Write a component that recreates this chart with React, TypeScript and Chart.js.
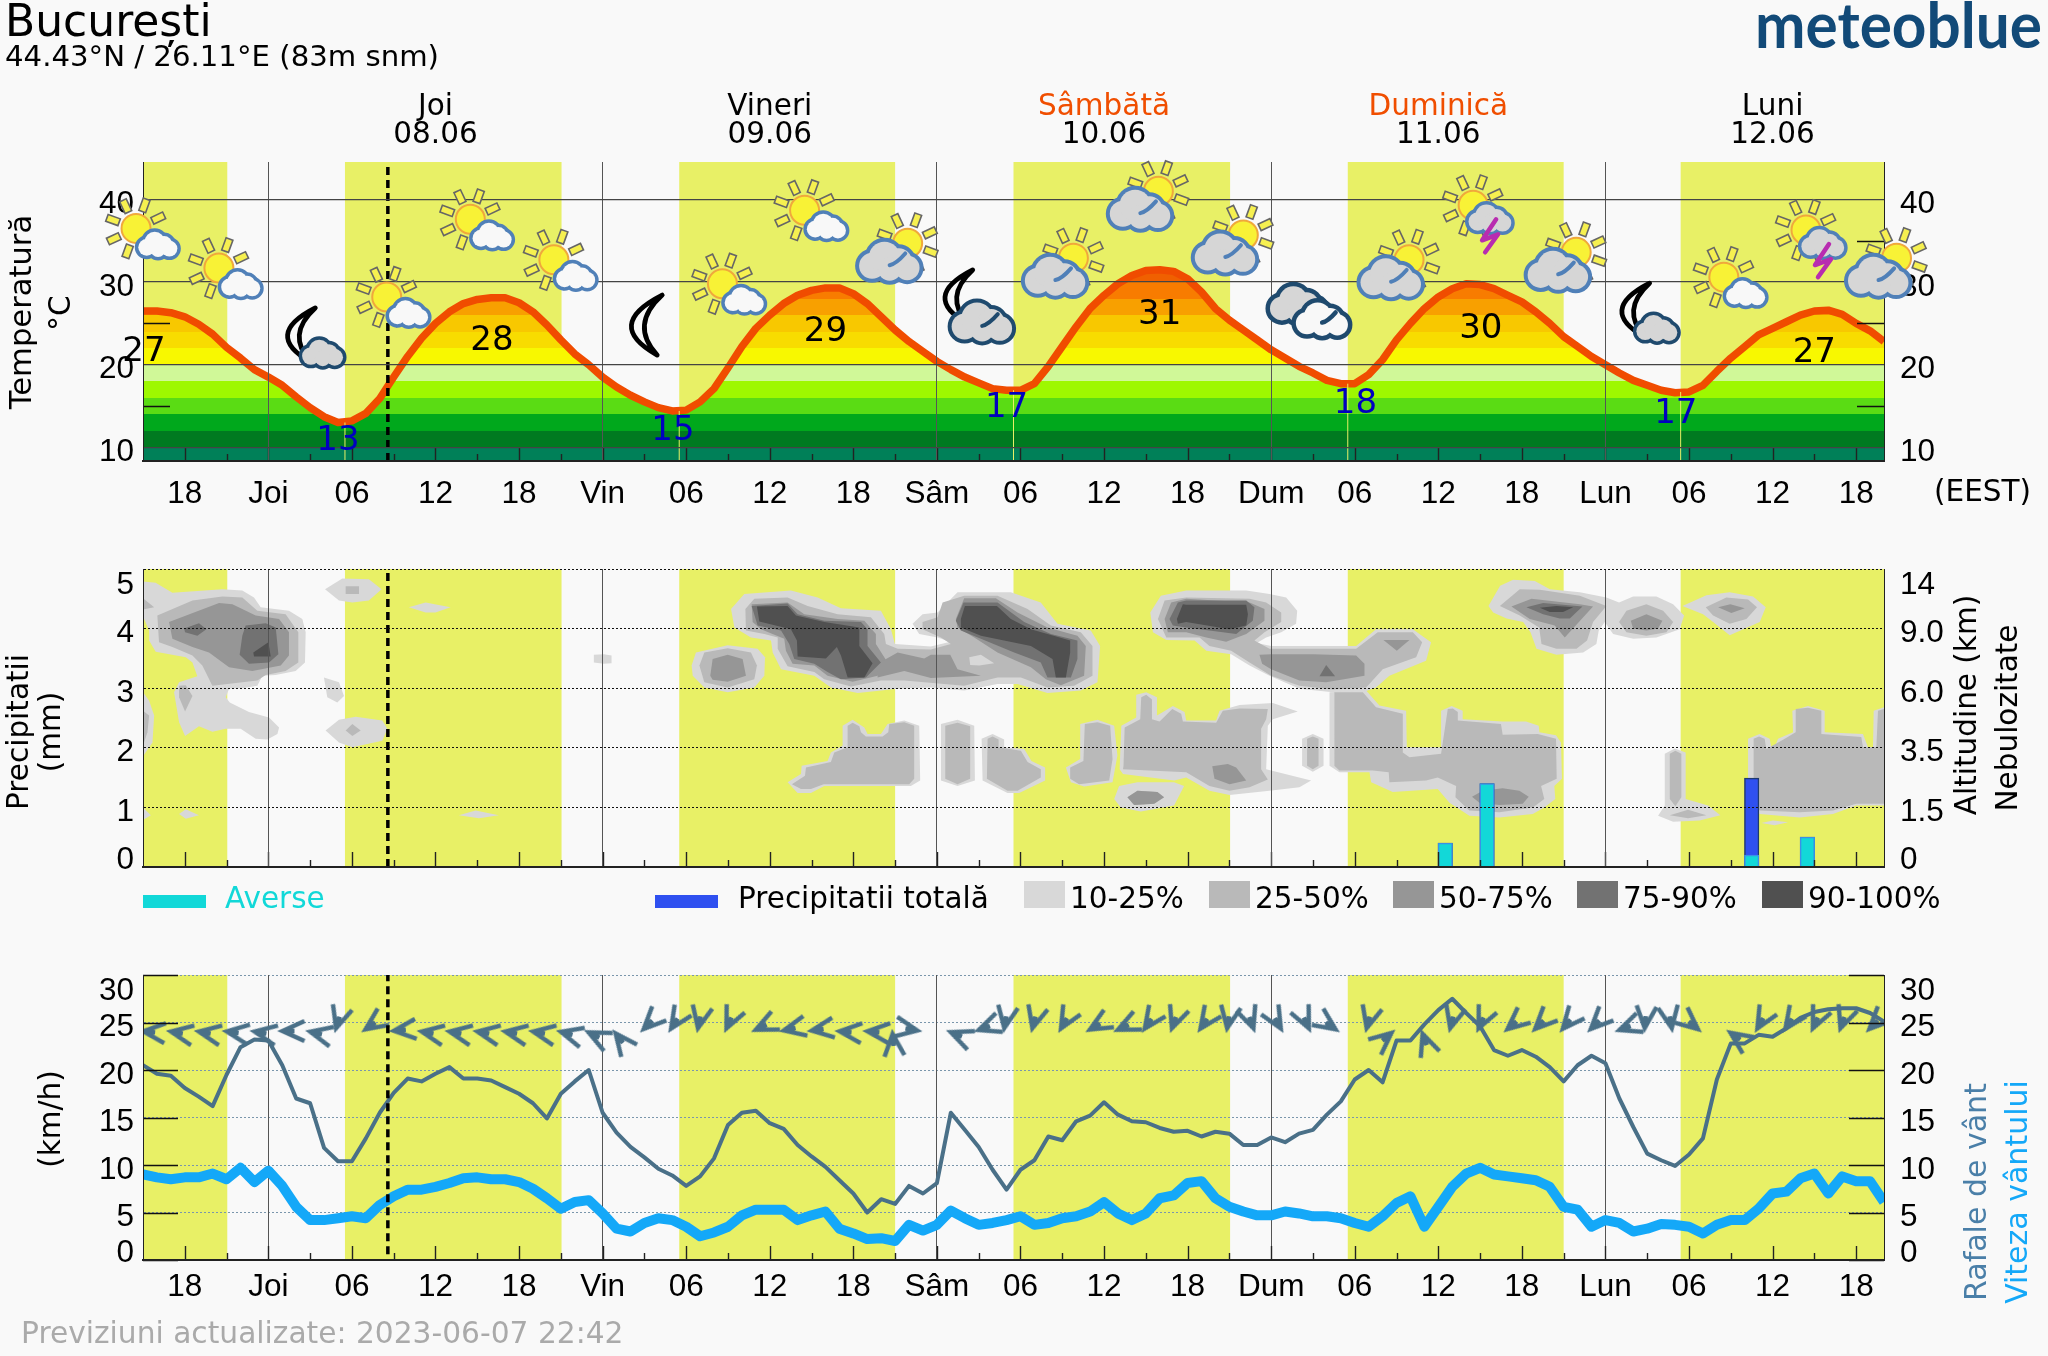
import { useEffect, useRef } from "react";
import { Chart, registerables } from "chart.js";
Chart.register(...registerables);

const FAMILY = "'DejaVu Sans'";
const BG = "#f9f9f9";
const DAY_YELLOW = "#e8f066";
const TICK_SIZE = 31.5;

const hourMin = -9;
const hourMax = 116;
const tickHours = [-6, 0, 6, 12, 18, 24, 30, 36, 42, 48, 54, 60, 66, 72, 78, 84, 90, 96, 102, 108, 114];
const tickLabels = ["18", "Joi", "06", "12", "18", "Vin", "06", "12", "18", "Sâm", "06", "12", "18", "Dum", "06", "12", "18", "Lun", "06", "12", "18"];
const minorHours = [-3, 3, 9, 15, 21, 27, 33, 39, 45, 51, 57, 63, 69, 75, 81, 87, 93, 99, 105, 111];
const dayBands = [[-9, -2.95], [5.5, 21.05], [29.5, 45], [53.5, 69.05], [77.5, 93], [101.4, 116]];
const nowHour = 8.58;
const dayNames = ["Joi", "Vineri", "Sâmbătă", "Duminică", "Luni"];
const dayDates = ["08.06", "09.06", "10.06", "11.06", "12.06"];
const dayCenters = [12, 36, 60, 84, 108];
const dayColors = ["#000", "#000", "#f04e00", "#f04e00", "#000"];

// hourly temperature, first value at hour -9
const temperature = [26.5, 26.5, 26.3, 25.8, 24.9, 23.7, 22.1, 20.8, 19.4, 18.5, 17.5, 16.1, 14.8, 13.7, 13.0, 13.2, 14.1, 15.9, 18.5, 21, 23.2, 25, 26.4, 27.4, 27.9, 28.1, 28.1, 27.5, 26.4, 24.8, 23, 21.3, 20, 18.5, 17.3, 16.3, 15.5, 14.8, 14.4, 14.5, 15.5, 17.1, 19.6, 22.2, 24.4, 26, 27.4, 28.4, 29, 29.3, 29.3, 28.6, 27.4, 25.8, 24.2, 22.8, 21.6, 20.4, 19.4, 18.5, 17.8, 17.1, 16.9, 16.9, 17.7, 19.8, 22.2, 24.6, 26.8, 28.4, 29.8, 30.8, 31.4, 31.5, 31.3, 30.4, 28.8, 26.8, 25.4, 24.2, 23, 21.8, 20.8, 19.8, 19, 18.1, 17.7, 17.7, 18.8, 20.6, 23, 25, 26.8, 28.2, 29.2, 29.8, 29.7, 29.2, 28.4, 27.6, 26.4, 25, 23.4, 22.2, 21, 20, 19, 18.1, 17.5, 16.9, 16.6, 16.7, 17.5, 19.2, 20.8, 22.2, 23.6, 24.4, 25.2, 26, 26.5, 26.6, 26.1, 25, 24.1, 22.8];
const tempBandEdges = [10, 12, 14, 16, 18, 20, 22, 24, 26, 28, 30];
const tempBandColors = ["#008058", "#007a20", "#00a81c", "#5adc14", "#9ef800", "#d0f898", "#f8f800", "#f8dc00", "#f8c800", "#f8a000", "#f87c00", "#f06000"];
const sunriseHours = [5.5, 29.5, 53.5, 77.5, 101.4];
const sunriseTemps = [13.0, 14.4, 16.9, 17.7, 16.7];
const maxLabelHours = [-8.93, 16.05, 40, 64, 87.05, 111];
const maxLabelTemps = [21.5, 22.8, 23.9, 26, 24.3, 21.4];
const maxLabels = ["27", "28", "29", "31", "30", "27"];
const minLabelHours = [5, 29.05, 53, 78.05, 101.05];
const minLabelTemps = [10.7, 12, 14.7, 15.2, 14];
const minLabels = ["13", "15", "17", "18", "17"];
const iconTypes = ["SW", "SW", "MC", "SW", "SW", "SW", "M", "SW", "SW", "SG", "ML", "SG", "SG", "SG", "CC", "SG", "ST", "SG", "MC", "SW", "ST", "SG"];
const iconHours = [-9.5, -3.55, 2.4, 8.5, 14.5, 20.5, 27.2, 32.6, 38.5, 45.9, 49.6, 57.8, 63.9, 70, 74.8, 81.9, 86.5, 93.9, 98.2, 104.5, 110.4, 116.9];
const iconTemps = [36.5, 31.7, 23.6, 28.2, 37.6, 32.7, 24.8, 29.8, 38.7, 34.7, 28.2, 32.9, 41, 35.7, 26.6, 32.7, 39.3, 33.6, 26.6, 30.6, 36.3, 32.9];

// hourly wind, first value at hour -9
const windGust = [20.5, 19.6, 19.4, 18.1, 17.2, 16.2, 19.5, 22.4, 23.2, 23.1, 20.5, 17, 16.5, 11.8, 10.4, 10.4, 12.8, 15.5, 17.6, 19.1, 18.8, 19.6, 20.3, 19.1, 19.1, 18.9, 18.2, 17.5, 16.5, 14.9, 17.5, 18.8, 20, 15.5, 13.4, 11.9, 10.8, 9.6, 8.9, 7.8, 8.8, 10.7, 14.2, 15.5, 15.7, 14.4, 13.8, 12.1, 10.9, 9.8, 8.4, 7, 5, 6.4, 5.9, 7.8, 7, 8.1, 15.5, 13.7, 11.9, 9.5, 7.4, 9.5, 10.5, 13, 12.6, 14.6, 15.2, 16.6, 15.3, 14.6, 14.5, 13.9, 13.5, 13.6, 13, 13.5, 13.3, 12.1, 12.1, 12.9, 12.4, 13.3, 13.7, 15.3, 16.7, 19, 20, 18.7, 23.1, 23.1, 24.8, 26.3, 27.5, 26, 24.6, 22.1, 21.5, 22.1, 21.4, 20.3, 18.8, 20.5, 21.5, 20.7, 17, 14, 11.2, 10.5, 9.9, 11.1, 12.8, 19, 22.8, 22.8, 23.7, 23.5, 24.4, 25.5, 26.1, 26.4, 26.5, 26.5, 26, 25.1];
const windSpeed = [9, 8.7, 8.5, 8.7, 8.7, 9.1, 8.5, 9.7, 8.2, 9.4, 7.8, 5.6, 4.2, 4.2, 4.4, 4.6, 4.4, 5.8, 6.7, 7.4, 7.4, 7.7, 8.1, 8.6, 8.7, 8.5, 8.5, 8.2, 7.5, 6.5, 5.4, 6.1, 6.3, 4.9, 3.3, 3, 3.9, 4.4, 4.2, 3.5, 2.5, 2.9, 3.5, 4.7, 5.3, 5.3, 5.3, 4.2, 4.7, 5.1, 3.3, 2.8, 2.2, 2.3, 2, 3.7, 3.1, 3.7, 5.2, 4.4, 3.7, 3.9, 4.2, 4.6, 3.7, 3.9, 4.4, 4.6, 5.1, 6.1, 4.9, 4.2, 4.9, 6.5, 6.8, 8.1, 8.3, 6.5, 5.6, 5.1, 4.7, 4.7, 5.1, 4.9, 4.6, 4.6, 4.4, 3.9, 3.5, 4.6, 6, 6.7, 3.5, 5.6, 7.7, 9.1, 9.7, 9, 8.8, 8.6, 8.4, 7.7, 5.6, 5.3, 3.5, 4.2, 3.9, 3, 3.3, 3.8, 3.7, 3.5, 2.8, 3.7, 4.2, 4.2, 5.4, 7, 7.2, 8.6, 9.1, 7, 8.8, 8.3, 8.3, 6.1];
// compass bearing each wind arrow points to, one arrow every 2 hours from hour -9.2
const windArrowFirstHour = -9.2;
const windArrowLevel = 24.1;
const windBearing = [275, 280, 280, 278, 280, 270, 283, 197, 235, 265, 280, 280, 280, 280, 280, 285, 296, 322, 225, 213, 192, 205, 245, 258, 262, 275, 275, 355, 100, 292, 250, 190, 195, 210, 240, 245, 215, 200, 215, 190, 160, 150, 155, 125, 195, 50, 340, 195, 205, 230, 225, 220, 225, 250, 185, 170, 130, 305, 210, 215, 205, 200, 225];

const precipHours = [84.5, 87.5, 106.5, 110.5];
const precipTotal = [0.4, 1.4, 1.49, 0.5];
const precipShowers = [0.4, 1.4, 0.2, 0.5];

// cloud cover contours: each list is hour, row value, hour, row value ...
const cloud10to25: number[][] = [
  [-9, 4.79, -8.09, 4.77, -6.89, 4.6, -3.3, 4.66, -1.87, 4.64, -1.03, 4.52, -0.55, 4.36, 1.48, 4.3, 2.44, 4.16, 2.68, 3.94, 2.63, 3.43, 1.96, 3.29, 0.53, 3.22, -0.43, 3.21, -0.79, 3.04, -1.87, 3, -2.82, 2.99, -3.06, 2.85, -2.77, 2.76, -1.39, 2.6, 0.05, 2.51, 0.77, 2.34, 0.65, 2.23, -0.07, 2.14, -0.91, 2.15, -1.99, 2.32, -3.06, 2.32, -4.02, 2.27, -4.98, 2.36, -5.98, 2.2, -6.41, 2.43, -6.77, 2.93, -6.41, 3.1, -5.1, 3.2, -5.45, 3.43, -5.93, 3.52, -8.09, 3.61, -8.56, 3.8, -8.56, 3.97, -8.92, 4.16, -9, 4.17],
  [-9, 2.93, -8.56, 2.79, -8.2, 2.54, -8.32, 2.09, -9, 1.86],
  [-9, 1, -8.44, 0.87, -9, 0.79],
  [-6.41, 0.89, -5.93, 0.97, -4.98, 0.87, -5.93, 0.81],
  [4.07, 4.66, 5.31, 4.84, 7.22, 4.83, 8.13, 4.66, 7.22, 4.47, 6.03, 4.44, 5.07, 4.47],
  [10.09, 4.36, 11.29, 4.44, 13.08, 4.36, 12, 4.27, 11.29, 4.27],
  [3.99, 3.18, 5.07, 3.1, 5.43, 2.87, 4.95, 2.76, 4.23, 2.85],
  [4.11, 2.29, 5.07, 2.47, 6.27, 2.52, 8.18, 2.46, 8.54, 2.32, 8.18, 2.12, 6.03, 2.01, 5.07, 2.09],
  [13.68, 0.87, 14.88, 0.95, 16.55, 0.87, 15.12, 0.82],
  [23.37, 3.56, 24.09, 3.57, 24.64, 3.55, 24.64, 3.42, 24.09, 3.41, 23.37, 3.43],
  [30.39, 3.38, 30.7, 3.6, 32.98, 3.72, 35.13, 3.66, 35.66, 3.52, 35.61, 3.21, 34.89, 3.01, 32.98, 2.93, 31.3, 3.01, 30.47, 3.21],
  [33.22, 4.33, 34.17, 4.58, 37.52, 4.64, 39.44, 4.52, 41.11, 4.34, 43.98, 4.3, 44.7, 3.99, 44.99, 3.74, 47.57, 3.7, 48.96, 3.78, 48.05, 3.85, 46.73, 3.91, 46.25, 4.08, 46.97, 4.24, 48.05, 4.27, 49.48, 4.61, 53.31, 4.61, 55.46, 4.44, 56.66, 4.08, 59.05, 3.97, 59.72, 3.71, 59.53, 3.1, 58.33, 2.96, 55.94, 2.92, 53.79, 3.07, 52.35, 3.07, 49.96, 2.96, 47.57, 3.01, 45.18, 2.99, 42.31, 2.92, 40.39, 3.01, 39.2, 3.21, 36.81, 3.32, 36.21, 3.6, 36.09, 3.8, 34.65, 3.85, 33.46, 4.02],
  [37.28, 1.42, 38.24, 1.56, 38.29, 1.7, 40.15, 1.78, 40.39, 1.92, 41.23, 2.04, 41.23, 2.37, 41.95, 2.47, 42.79, 2.34, 43.02, 2.23, 43.98, 2.23, 44.46, 2.4, 45.66, 2.46, 46.73, 2.37, 46.8, 1.45, 46.13, 1.36, 39.91, 1.36, 38.96, 1.24, 38, 1.24],
  [48.29, 2.4, 49.48, 2.47, 50.68, 2.37, 50.73, 1.45, 49.48, 1.36, 48.29, 1.45],
  [51.21, 2.15, 52, 2.23, 52.83, 2.14, 52.83, 2.01, 54.27, 1.98, 54.79, 1.78, 55.77, 1.67, 55.77, 1.45, 53.91, 1.24, 53.07, 1.24, 51.28, 1.45],
  [57.26, 1.67, 58.29, 1.81, 58.29, 2.4, 59.53, 2.47, 60.73, 2.37, 60.96, 1.87, 60.61, 1.42, 58.57, 1.35, 57.62, 1.42],
  [60.73, 1.14, 61.08, 1.36, 62.4, 1.42, 65.03, 1.42, 65.75, 1.36, 65.03, 1.03, 62.64, 0.93, 61.2, 1],
  [61.12, 1.64, 61.24, 2.37, 62.31, 2.51, 62.31, 2.89, 63.03, 2.93, 63.8, 2.85, 63.8, 2.54, 64.23, 2.6, 64.94, 2.7, 65.78, 2.6, 65.9, 2.46, 68.05, 2.46, 68.29, 2.62, 69.73, 2.72, 72.12, 2.75, 73.91, 2.61, 72.12, 2.48, 71.76, 2.37, 71.64, 1.64, 74.87, 1.45, 74.03, 1.34, 71.88, 1.28, 69.01, 1.21, 67.57, 1.28, 65.9, 1.5, 65.04, 1.45, 61.36, 1.56],
  [63.32, 4.27, 64.08, 4.55, 65.9, 4.64, 70.21, 4.64, 71.88, 4.58, 73.08, 4.52, 73.87, 4.3, 73.79, 4.08, 72.72, 3.94, 71.64, 3.85, 70.97, 3.76, 72, 3.71, 78.1, 3.71, 78.82, 3.85, 79.53, 3.99, 82.17, 3.99, 83.48, 3.77, 83.12, 3.46, 80.49, 3.21, 79.53, 3.01, 78.58, 2.93, 76.43, 2.93, 74.03, 2.99, 71.88, 3.21, 70.45, 3.38, 69.13, 3.57, 67.34, 3.63, 66.5, 3.8, 64.47, 3.81, 63.51, 3.94],
  [76.19, 2.93, 78.82, 2.96, 79.77, 2.71, 81.69, 2.62, 81.74, 2.01, 84.2, 2.01, 84.2, 2.62, 84.96, 2.7, 85.75, 2.62, 85.75, 2.48, 88.62, 2.44, 90.3, 2.44, 91.21, 2.37, 91.26, 2.26, 92.45, 2.21, 92.81, 2.09, 92.88, 1.48, 92.33, 1.36, 92.4, 1.14, 91.61, 1, 90.78, 0.89, 88.39, 0.83, 86.23, 0.86, 84.8, 1.08, 83.96, 1.31, 80.73, 1.26, 79.18, 1.42, 79.06, 1.59, 76.9, 1.59, 76.19, 1.7],
  [74.22, 2.15, 74.99, 2.23, 75.76, 2.15, 75.76, 1.7, 74.99, 1.6, 74.22, 1.7],
  [87.6, 4.38, 88.44, 4.72, 89.37, 4.82, 90.93, 4.8, 92.01, 4.66, 94.16, 4.61, 96.07, 4.52, 96.98, 4.44, 97.99, 4.54, 99.66, 4.54, 100.86, 4.41, 101.65, 4.22, 101.33, 3.99, 99.66, 3.85, 97.99, 3.83, 96.55, 3.91, 95.95, 4.11, 95.52, 3.97, 95.35, 3.74, 94.4, 3.6, 92.48, 3.56, 91.05, 3.66, 90.62, 3.94, 90.09, 4.11, 88.9, 4.17, 87.94, 4.27],
  [101.53, 4.38, 103.25, 4.56, 104.92, 4.61, 106.6, 4.54, 107.51, 4.36, 107.08, 4.11, 104.92, 3.89, 103.73, 4.11, 103.01, 4.24],
  [106.24, 2.15, 107.07, 2.23, 107.79, 2.15, 107.91, 2.01, 108.15, 2.01, 108.39, 2.15, 109.47, 2.26, 109.42, 2.62, 110.54, 2.7, 111.74, 2.62, 111.74, 2.26, 114.49, 2.23, 114.85, 2.01, 115.21, 2.01, 115.26, 2.62, 116, 2.68, 116, 1.03, 114.01, 1.03, 112.34, 0.89, 109.95, 0.83, 107.07, 0.89, 106.24, 1.08],
  [107.19, 0.74, 108.03, 0.78, 109.11, 0.75, 108.15, 0.7],
  [100.26, 1.9, 100.98, 1.99, 101.76, 1.92, 101.76, 1.14, 103.37, 1.03, 104.25, 0.87, 102.77, 0.78, 100.86, 0.76, 99.78, 0.86, 100.26, 1.03],
];
const cloud25to50: number[][] = [
  [-7.97, 4.22, -5.45, 4.47, -3.3, 4.54, -1.87, 4.52, -0.79, 4.3, 1.24, 4.24, 2.15, 3.94, 2.15, 3.43, 1.24, 3.29, -0.19, 3.22, -0.79, 3.13, -4.02, 3.04, -4.74, 3.38, -5.45, 3.55, -6.89, 3.69, -7.85, 3.77],
  [-9, 4.51, -8.2, 4.36, -9, 4.32],
  [-6.41, 3.04, -5.93, 3.05, -5.45, 2.87, -5.98, 2.61, -6.41, 2.85],
  [-9, 2.62, -8.56, 2.54, -8.68, 2.26, -9, 2.04],
  [5.55, 4.71, 6.51, 4.71, 6.51, 4.58, 5.55, 4.58],
  [5.55, 2.29, 6.03, 2.4, 6.63, 2.29, 6.03, 2.2],
  [30.95, 3.38, 31.3, 3.6, 32.98, 3.67, 34.65, 3.6, 35.08, 3.38, 34.89, 3.15, 32.98, 3.01, 31.3, 3.1],
  [34.25, 4.33, 34.89, 4.5, 37.28, 4.52, 38.72, 4.38, 40.87, 4.24, 43.26, 4.19, 44.22, 3.91, 44.34, 3.74, 45.18, 3.66, 47.57, 3.65, 49, 3.74, 48.29, 3.85, 46.97, 3.99, 46.97, 4.11, 48.05, 4.19, 48.41, 4.44, 49.96, 4.55, 52.35, 4.55, 54.51, 4.33, 56.18, 4.05, 58.33, 3.94, 59.17, 3.71, 59.17, 3.21, 57.86, 3.04, 55.94, 3.01, 54.03, 3.18, 52.35, 3.18, 49.96, 3.04, 45.66, 3.13, 43.98, 3.13, 41.83, 3.03, 39.91, 3.15, 39.2, 3.27, 37.28, 3.37, 36.57, 3.66, 36.57, 3.85, 35.61, 3.91, 34.29, 3.97],
  [37.59, 1.39, 38.53, 1.53, 38.6, 1.67, 40.39, 1.76, 40.63, 1.92, 41.59, 2.01, 41.59, 2.37, 41.95, 2.42, 42.43, 2.36, 42.55, 2.26, 42.9, 2.19, 44.1, 2.19, 44.51, 2.26, 44.58, 2.4, 45.66, 2.43, 46.37, 2.37, 46.37, 1.48, 46.01, 1.39, 39.87, 1.39, 38.96, 1.31, 38.24, 1.31],
  [48.6, 2.37, 49.48, 2.42, 50.39, 2.36, 50.39, 1.48, 49.48, 1.39, 48.6, 1.48],
  [51.64, 2.15, 52, 2.19, 52.43, 2.14, 52.43, 2.01, 54.03, 1.95, 54.51, 1.76, 55.46, 1.64, 55.46, 1.5, 53.79, 1.28, 53.07, 1.28, 51.59, 1.48],
  [57.57, 1.67, 58.52, 1.78, 58.62, 2.4, 59.53, 2.43, 60.44, 2.37, 60.61, 1.81, 60.37, 1.45, 58.21, 1.39, 57.57, 1.48],
  [61.68, 1.17, 62.4, 1.28, 63.83, 1.26, 64.31, 1.17, 63.6, 1.06, 62.16, 1.04],
  [61.4, 1.7, 61.48, 2.34, 62.6, 2.48, 62.67, 2.85, 63.03, 2.89, 63.44, 2.81, 63.44, 2.48, 63.99, 2.44, 64.9, 2.65, 65.54, 2.57, 65.66, 2.44, 68.05, 2.42, 68.53, 2.62, 69.73, 2.66, 71.76, 2.65, 71.64, 2.48, 71.28, 2.32, 71.28, 1.64, 71.76, 1.47, 70.45, 1.34, 69.01, 1.28, 67.57, 1.36, 65.9, 1.59, 61.36, 1.64],
  [63.87, 4.16, 64.35, 4.47, 65.9, 4.52, 70.45, 4.5, 71.64, 4.44, 72.72, 4.27, 72.72, 4.11, 71.52, 3.94, 70.8, 3.8, 71.88, 3.66, 78.1, 3.66, 79.65, 3.94, 82.17, 3.94, 82.84, 3.77, 82.41, 3.52, 80.01, 3.32, 78.82, 3.01, 76.43, 2.98, 74.03, 3.04, 72, 3.21, 70.45, 3.43, 69.13, 3.63, 67.57, 3.71, 66.86, 3.85, 64.47, 3.85],
  [76.54, 2.93, 78.58, 2.93, 79.53, 2.68, 81.45, 2.57, 81.45, 1.92, 81.93, 1.84, 84.2, 1.9, 84.68, 2.65, 85.04, 2.66, 85.4, 2.6, 85.4, 2.46, 88.5, 2.4, 88.62, 2.22, 91.14, 2.23, 92.45, 2.15, 92.5, 1.48, 91.38, 1.36, 91.61, 1.14, 90.78, 1, 88.39, 0.92, 86.23, 0.95, 85.23, 1.17, 85.28, 1.36, 83.96, 1.5, 83.12, 1.45, 80.49, 1.42, 80.44, 1.59, 79.3, 1.62, 76.9, 1.62, 76.54, 1.7],
  [74.58, 2.15, 74.99, 2.19, 75.4, 2.15, 75.4, 1.7, 74.99, 1.64, 74.58, 1.7],
  [88.42, 4.38, 89.85, 4.66, 91.29, 4.65, 94.16, 4.55, 96.07, 4.38, 95.11, 4.11, 94.68, 3.8, 93.92, 3.66, 92.48, 3.66, 91.41, 3.74, 91.24, 4.02, 89.85, 4.22],
  [96.98, 4.11, 97.51, 4.3, 98.94, 4.41, 100.14, 4.3, 100.86, 4.11, 100.38, 3.94, 98.94, 3.88, 97.51, 3.94],
  [103.2, 4.36, 104.68, 4.52, 106.24, 4.49, 106.88, 4.36, 106.12, 4.16, 104.92, 4.08, 103.73, 4.22],
  [106.64, 2.15, 107.03, 2.19, 107.43, 2.15, 107.55, 1.98, 108.63, 2.12, 109.66, 2.26, 109.66, 2.65, 110.54, 2.67, 111.5, 2.62, 111.5, 2.23, 114.37, 2.18, 114.49, 2.01, 115.45, 2.01, 115.57, 2.62, 116, 2.65, 116, 1.06, 114.01, 1.06, 112.34, 0.95, 109.95, 0.92, 107.07, 0.95, 106.64, 1.08],
  [100.62, 1.9, 101.02, 1.95, 101.45, 1.9, 101.45, 1.17, 101.02, 1.02, 100.62, 1.14],
  [100.62, 0.87, 101.93, 0.96, 103.25, 0.87, 101.93, 0.82],
];
const cloudThinPatch: number[][] = [
  [50.32, 3.52, 51.16, 3.56, 52.11, 3.42, 51.04, 3.38, 50.39, 3.39],
];
const cloud50to75: number[][] = [
  [-7.13, 4.11, -3.54, 4.43, -2.58, 4.41, -0.91, 4.22, 0.77, 4.16, 1.48, 3.94, 1.48, 3.55, 0.89, 3.38, -1.15, 3.29, -2.82, 3.35, -4.26, 3.6, -5.45, 3.69, -6.89, 3.83],
  [31.73, 3.21, 31.9, 3.49, 32.98, 3.56, 34.05, 3.49, 34.29, 3.21, 32.98, 3.11, 31.9, 3.14],
  [34.7, 4.41, 37.28, 4.44, 38.48, 4.24, 40.87, 4.16, 42.79, 4.13, 43.62, 3.91, 43.62, 3.74, 44.46, 3.43, 43.74, 3.21, 41.95, 3.11, 40.15, 3.21, 39.2, 3.38, 37.64, 3.41, 37.16, 3.63, 37.04, 3.83, 35.37, 3.99, 34.77, 4.11],
  [43.74, 3.41, 45.18, 3.6, 47.09, 3.5, 47.57, 3.56, 48.96, 3.56, 49.48, 3.32, 51.16, 3.21, 47.57, 3.17, 45.66, 3.29, 43.74, 3.18],
  [49.36, 4.16, 49.96, 4.51, 52.23, 4.51, 53.79, 4.27, 55.94, 4.02, 58.09, 3.88, 58.69, 3.71, 58.57, 3.21, 56.9, 3.05, 55.82, 3.15, 54.75, 3.35, 52.35, 3.6, 50.68, 3.85, 49.48, 4.02],
  [61.68, 1.17, 62.4, 1.28, 63.83, 1.26, 64.31, 1.17, 63.6, 1.06, 62.16, 1.04],
  [67.77, 1.69, 68.89, 1.73, 69.49, 1.67, 70.21, 1.45, 69.01, 1.39, 67.93, 1.48],
  [64.35, 4.16, 64.82, 4.44, 65.9, 4.5, 70.45, 4.44, 71.52, 4.33, 71.52, 4.13, 70.21, 3.91, 68.77, 3.78, 67.34, 3.85, 65.9, 3.94, 64.58, 3.94],
  [71.16, 3.56, 72, 3.57, 74.99, 3.57, 78.1, 3.55, 78.7, 3.41, 78.7, 3.21, 75.95, 3.1, 74.03, 3.13, 72, 3.32, 71.35, 3.41],
  [80.06, 3.81, 81.93, 3.81, 81.02, 3.63],
  [86.42, 1.18, 87.19, 1.28, 88.62, 1.32, 89.82, 1.28, 90.49, 1.18, 90.06, 1.06, 88.39, 1.04, 86.95, 1.08],
  [89.25, 4.37, 90.69, 4.5, 94.16, 4.41, 95.11, 4.37, 93.08, 3.85, 92.36, 4.05, 90.57, 4.16],
  [97.82, 4.13, 98.94, 4.24, 100.09, 4.13, 99.78, 4, 98.94, 3.97, 97.99, 4],
  [104.09, 4.36, 104.97, 4.41, 106, 4.34, 105.04, 4.26],
];
const cloud75to90: number[][] = [
  [-6.05, 4, -4.98, 4.09, -4.45, 3.99, -5.1, 3.88, -5.98, 3.94],
  [-1.63, 4.05, -0.19, 4.09, 0.53, 4.02, 0.72, 3.57, 0.05, 3.43, -1.39, 3.41, -2.06, 3.56, -1.87, 3.88],
  [34.7, 4.38, 37.28, 4.42, 38, 4.24, 39.92, 4.13, 42.55, 4.11, 43.02, 3.99, 43.02, 3.71, 43.98, 3.43, 42.9, 3.18, 41.11, 3.15, 40.15, 3.27, 39.2, 3.41, 37.76, 3.49, 37.4, 3.74, 36.81, 3.97, 35.13, 4.05],
  [49.36, 4.13, 49.91, 4.44, 52.35, 4.44, 54.27, 4.11, 56.18, 3.91, 58.09, 3.8, 58.09, 3.49, 57.62, 3.18, 55.94, 3.18, 55.46, 3.43, 53.55, 3.6, 51.16, 3.83, 49.72, 3.97],
  [64.7, 4.16, 65.3, 4.44, 65.9, 4.47, 70.21, 4.47, 70.8, 4.36, 70.68, 4.13, 69.49, 3.91, 68.53, 3.94, 65.9, 4.02, 64.94, 4.05],
  [75.47, 3.2, 75.95, 3.39, 76.59, 3.2],
  [90.33, 4.36, 91.53, 4.43, 94.35, 4.37, 93.44, 4.17, 92.72, 4.17, 91.53, 4.24],
];
const cloud90to100: number[][] = [
  [-1.08, 3.6, 0, 3.77, 0.17, 3.53, -1.03, 3.53],
  [35.08, 4.37, 37.28, 4.38, 37.88, 4.22, 39.92, 4.11, 42.43, 4.02, 42.43, 3.71, 43.38, 3.42, 42.79, 3.18, 41.59, 3.18, 41.11, 3.55, 40.82, 3.69, 40.03, 3.5, 38, 3.53, 37.95, 3.8, 37.52, 3.99, 35.25, 4.12],
  [49.72, 4.16, 50.01, 4.38, 52.31, 4.38, 53.31, 4.16, 54.75, 3.99, 57.57, 3.8, 57.57, 3.6, 57.26, 3.18, 56.54, 3.18, 56.3, 3.49, 54.75, 3.71, 51.16, 3.88, 49.72, 4.02],
  [65.23, 4.16, 65.66, 4.41, 65.9, 4.4, 70.21, 4.4, 70.33, 4.24, 70.21, 4.05, 69.01, 3.99, 65.9, 4.11, 65.3, 4.08],
  [91.29, 4.35, 92.48, 4.38, 93.68, 4.36, 92.96, 4.28, 92, 4.28],
];
const cloudColors = ["#d8d8d8", "#b9b9b9", "#969696", "#727272", "#505050"];
const cloudLegend = ["10-25%", "25-50%", "50-75%", "75-90%", "90-100%"];

const hourly = (values: number[]) => values.map((y, i) => ({ x: hourMin + i, y }));
const pairs = (flat: number[]) => {
  const out: { x: number; y: number }[] = [];
  for (let i = 0; i < flat.length; i += 2) out.push({ x: flat[i], y: flat[i + 1] });
  return out;
};
const ordered = (list: any[]) => list.map((d, i) => ({ order: list.length - i, ...d }));
const base = { pointRadius: 0, pointHoverRadius: 0, borderWidth: 0, tension: 0, yAxisID: "y", xAxisID: "x" };

function text(ctx: CanvasRenderingContext2D, s: string, x: number, y: number, o: any = {}) {
  ctx.save();
  ctx.font = `${o.weight || "normal"} ${o.size || 29.5}px ${o.family || FAMILY}`;
  ctx.fillStyle = o.color || "#000";
  ctx.textAlign = o.align || "left";
  ctx.textBaseline = o.baseline || "middle";
  ctx.translate(x, y);
  if (o.rotate) ctx.rotate(o.rotate);
  if (o.maxWidth) ctx.fillText(s, 0, 0, o.maxWidth);
  else ctx.fillText(s, 0, 0);
  ctx.restore();
}
const UP = -Math.PI / 2;

function drawSun(ctx: CanvasRenderingContext2D, x: number, y: number) {
  for (let k = 0; k < 8; k++) {
    ctx.save();
    ctx.translate(x, y);
    ctx.rotate(((20 + 45 * k) * Math.PI) / 180);
    ctx.beginPath();
    ctx.rect(18, -3.6, 13, 7.2);
    ctx.fillStyle = "#f6f050";
    ctx.strokeStyle = "#666";
    ctx.lineWidth = 1.6;
    ctx.fill();
    ctx.stroke();
    ctx.restore();
  }
  ctx.beginPath();
  ctx.arc(x, y, 14.5, 0, Math.PI * 2);
  ctx.fillStyle = "#f8f236";
  ctx.strokeStyle = "#f0a83c";
  ctx.lineWidth = 2;
  ctx.fill();
  ctx.stroke();
}
function drawCloud(ctx: CanvasRenderingContext2D, cx: number, cy: number, w: number, fill: string, stroke: string, lw: number, hook: boolean) {
  const lobes = [[-0.27, 0.07, 0.2], [-0.08, -0.06, 0.24], [0.14, 0, 0.2], [0.27, 0.1, 0.19], [0, 0.12, 0.18]];
  ctx.save();
  ctx.strokeStyle = stroke;
  ctx.lineWidth = lw * 2;
  for (const [a, b, r] of lobes) {
    ctx.beginPath();
    ctx.arc(cx + a * w, cy + b * w, r * w, 0, Math.PI * 2);
    ctx.stroke();
  }
  ctx.fillStyle = fill;
  for (const [a, b, r] of lobes) {
    ctx.beginPath();
    ctx.arc(cx + a * w, cy + b * w, r * w, 0, Math.PI * 2);
    ctx.fill();
  }
  if (hook) {
    ctx.lineWidth = lw;
    ctx.lineCap = "round";
    ctx.beginPath();
    ctx.moveTo(cx, cy + 0.06 * w);
    ctx.quadraticCurveTo(cx + 0.1 * w, cy + 0.04 * w, cx + 0.24 * w, cy - 0.12 * w);
    ctx.stroke();
  }
  ctx.restore();
}
function drawMoon(ctx: CanvasRenderingContext2D, x: number, y: number, s: number) {
  ctx.save();
  ctx.translate(x, y);
  ctx.scale(s, s);
  ctx.beginPath();
  ctx.moveTo(15, -30);
  ctx.quadraticCurveTo(-44, 0, 10, 30);
  ctx.quadraticCurveTo(-18, 0, 15, -30);
  ctx.closePath();
  ctx.fillStyle = BG;
  ctx.strokeStyle = "#000";
  ctx.lineWidth = 4.8 / s;
  ctx.lineJoin = "round";
  ctx.fill();
  ctx.stroke();
  ctx.restore();
}
function drawIcon(ctx: CanvasRenderingContext2D, type: string, x: number, y: number) {
  const blue = "#5080b8";
  const dark = "#1f4a6e";
  if (type === "SW") {
    drawSun(ctx, x, y);
    drawCloud(ctx, x + 22, y + 16, 42, "#f8f8f8", blue, 3.5, false);
  } else if (type === "SG") {
    drawSun(ctx, x, y);
    drawCloud(ctx, x - 18, y + 18, 65, "#d6d6d6", blue, 4, true);
  } else if (type === "ST") {
    drawSun(ctx, x, y);
    drawCloud(ctx, x + 17, y + 13, 46, "#d6d6d6", blue, 3.5, false);
    ctx.save();
    ctx.strokeStyle = "#b82cb0";
    ctx.lineWidth = 4.5;
    ctx.lineCap = "round";
    ctx.lineJoin = "round";
    ctx.beginPath();
    ctx.moveTo(x + 23, y + 14);
    ctx.lineTo(x + 9, y + 35);
    ctx.lineTo(x + 25, y + 29);
    ctx.lineTo(x + 12, y + 47);
    ctx.stroke();
    ctx.restore();
  } else if (type === "M") {
    drawMoon(ctx, x, y, 1);
  } else if (type === "MC") {
    drawMoon(ctx, x, y, 0.9);
    drawCloud(ctx, x + 21, y + 18, 44, "#d6d6d6", dark, 3.5, false);
  } else if (type === "ML") {
    drawMoon(ctx, x, y, 0.9);
    drawCloud(ctx, x + 23, y + 25, 65, "#d6d6d6", dark, 4, true);
  } else if (type === "CC") {
    drawCloud(ctx, x - 12, y - 6, 60, "#d6d6d6", dark, 4.5, false);
    drawCloud(ctx, x + 12, y + 9, 56, "#f8f8f8", dark, 4.5, true);
  }
}
function makeArrow() {
  const c = document.createElement("canvas");
  c.width = 70;
  c.height = 70;
  const g = c.getContext("2d")!;
  g.strokeStyle = "#4a7088";
  g.lineWidth = 4.4;
  g.lineCap = "butt";
  g.lineJoin = "miter";
  g.beginPath();
  g.moveTo(35 + 25, 35 - 10);
  g.lineTo(35 + 3, 35);
  g.lineTo(35 + 25, 35 + 10);
  g.moveTo(35 + 3, 35);
  g.lineTo(35 + 15, 35);
  g.stroke();
  return c;
}

const xAxis = (showLabels: boolean, z: number, padding: number) => ({
  type: "linear",
  min: hourMin,
  max: hourMax,
  offset: false,
  afterBuildTicks: (a: any) => {
    a.ticks = tickHours.map((value) => ({ value }));
  },
  afterFit: (a: any) => {
    a.height = 60;
  },
  grid: { offset: false, drawTicks: false, z, lineWidth: 1, color: (c: any) => (c.tick && c.tick.value % 24 === 0 ? "#555" : "transparent") },
  border: { color: "#222", width: 2, z: 2 },
  ticks: {
    display: showLabels,
    autoSkip: false,
    maxRotation: 0,
    padding,
    color: "#000",
    font: { size: TICK_SIZE },
    callback: (v: number) => tickLabels[tickHours.indexOf(v)],
  },
});
const yAxis = (position: string, min: number, max: number, values: number[], labels: any[], o: any = {}) => ({
  type: "linear",
  position,
  min,
  max,
  afterBuildTicks: (a: any) => {
    a.ticks = values.map((value) => ({ value }));
  },
  afterFit: (a: any) => {
    a.width = position === "left" ? 143 : 164;
  },
  grid: o.grid || { display: false },
  border: { color: "#222", width: 1, z: 2, ...(o.dash ? { dash: o.dash } : {}) },
  ticks: {
    autoSkip: false,
    padding: position === "left" ? 9 : 8,
    labelOffset: 5,
    color: "#000",
    font: { size: TICK_SIZE, lineHeight: 0.74 },
    callback: (_: number, i: number) => labels[i],
  },
});
function xMarks(chart: any, major: number, minor: number) {
  const { ctx, chartArea, scales } = chart;
  ctx.save();
  ctx.strokeStyle = "#222";
  ctx.lineWidth = 1.4;
  const mark = (h: number, len: number) => {
    const x = Math.round(scales.x.getPixelForValue(h)) + 0.5;
    ctx.beginPath();
    ctx.moveTo(x, chartArea.bottom);
    ctx.lineTo(x, chartArea.bottom - len);
    ctx.stroke();
  };
  tickHours.forEach((h) => mark(h, major));
  minorHours.forEach((h) => mark(h, minor));
  ctx.restore();
}
function yMarks(chart: any, values: number[], len: number) {
  const { ctx, chartArea, scales } = chart;
  ctx.save();
  ctx.strokeStyle = "#111";
  ctx.lineWidth = 1.4;
  values.forEach((v) => {
    const y = Math.round(scales.y.getPixelForValue(v)) + 0.5;
    ctx.beginPath();
    ctx.moveTo(chartArea.left, y);
    ctx.lineTo(chartArea.left + len, y);
    ctx.moveTo(chartArea.right, y);
    ctx.lineTo(chartArea.right - len, y);
    ctx.stroke();
  });
  ctx.restore();
}
const bandsPlugin = {
  id: "dayBands",
  beforeDraw(chart: any) {
    const { ctx, chartArea, scales } = chart;
    ctx.save();
    ctx.fillStyle = DAY_YELLOW;
    dayBands.forEach(([a, b]) => {
      const x0 = scales.x.getPixelForValue(a);
      const x1 = scales.x.getPixelForValue(b);
      ctx.fillRect(x0, chartArea.top, x1 - x0, chartArea.bottom - chartArea.top);
    });
    ctx.restore();
  },
};
const commonOptions = (top: number, bottom: number) => ({
  responsive: false,
  animation: false,
  devicePixelRatio: 1,
  events: [],
  layout: { padding: { left: 0, right: 0, top, bottom: 1356 - bottom - 60 } },
  plugins: { legend: { display: false }, tooltip: { enabled: false } },
});
const nowLine = (yMin: number, yMax: number) => ({
  ...base,
  type: "line",
  data: [{ x: nowHour, y: yMin }, { x: nowHour, y: yMax }],
  borderColor: "#000",
  borderWidth: 3.5,
  borderDash: [8, 5],
  fill: false,
});

function buildTop(canvas: HTMLCanvasElement) {
  const yMin = 8.34;
  const yMax = 44.54;
  const gradient = (c: any) => {
    const { chart } = c;
    const { ctx, chartArea, scales } = chart;
    if (!chartArea) return "transparent";
    const t = chartArea.top;
    const b = chartArea.bottom;
    const g = ctx.createLinearGradient(0, b, 0, t);
    const pos = (v: number) => (b - scales.y.getPixelForValue(v)) / (b - t);
    let from = 0;
    tempBandColors.forEach((col, i) => {
      const to = i < tempBandEdges.length ? pos(tempBandEdges[i]) : 1;
      g.addColorStop(from, col);
      g.addColorStop(to, col);
      from = to;
    });
    return g;
  };
  return new Chart(canvas, {
    type: "line",
    data: {
      datasets: ordered([
        { ...base, data: hourly(temperature), fill: "start", backgroundColor: gradient, borderColor: "#f04c00", borderWidth: 7.5, borderJoinStyle: "round" },
        ...sunriseHours.map((h, i) => ({ ...base, data: [{ x: h, y: yMin }, { x: h, y: sunriseTemps[i] }], borderColor: DAY_YELLOW, borderWidth: 1, fill: false })),
        nowLine(yMin, yMax),
      ]),
    },
    options: {
      ...commonOptions(162, 461),
      scales: {
        x: xAxis(true, 1, 14),
        y: yAxis("left", yMin, yMax, [10, 20, 30, 40], ["10", "20", "30", "40"], { grid: { color: "#444", lineWidth: 1.3, drawTicks: false, z: 1 } }),
        yR: yAxis("right", yMin, yMax, [10, 20, 30, 40], ["10", "20", "30", "40"]),
      },
    },
    plugins: [
      bandsPlugin,
      {
        id: "topExtras",
        afterDatasetsDraw(chart: any) {
          xMarks(chart, 14, 7);
          yMarks(chart, [15, 25, 35], 27);
        },
        afterDraw(chart: any) {
          const { ctx, scales } = chart;
          const px = (h: number) => scales.x.getPixelForValue(h);
          const py = (t: number) => scales.y.getPixelForValue(t);
          maxLabels.forEach((s, i) => text(ctx, s, px(maxLabelHours[i]), py(maxLabelTemps[i]), { size: 34, align: "center" }));
          minLabels.forEach((s, i) => text(ctx, s, px(minLabelHours[i]), py(minLabelTemps[i]), { size: 34, align: "center", color: "#0000c0" }));
          iconTypes.forEach((t, i) => drawIcon(ctx, t, px(iconHours[i]), py(iconTemps[i])));
          text(ctx, "București", 5, 25, { size: 44 });
          text(ctx, "44.43°N / 26.11°E (83m snm)", 5, 58, { size: 29.2 });
          text(ctx, "meteoblue", 1755, 48, { size: 64, weight: "bold", family: "Lato", color: "#124a78", baseline: "alphabetic", maxWidth: 287 });
          dayNames.forEach((n, i) => {
            text(ctx, n, px(dayCenters[i]), 107, { align: "center", color: dayColors[i] });
            text(ctx, dayDates[i], px(dayCenters[i]), 135, { align: "center" });
          });
          text(ctx, "(EEST)", 1934, 493);
          text(ctx, "Temperatură", 23, 312, { align: "center", rotate: UP, size: 30.6 });
          text(ctx, "°C", 62, 313, { align: "center", rotate: UP });
        },
      },
    ],
  } as any);
}

function buildMiddle(canvas: HTMLCanvasElement) {
  const polygon = (color: string) => (flat: number[]) => ({ ...base, data: pairs(flat), fill: "shape", backgroundColor: color, showLine: true });
  const bar = (values: number[], color: string, border: string) => ({
    type: "bar",
    data: precipHours.map((x, i) => ({ x, y: values[i] })),
    backgroundColor: color,
    borderColor: border,
    borderWidth: 1.5,
    barThickness: 14.5,
    grouped: false,
    yAxisID: "y",
    xAxisID: "x",
  });
  return new Chart(canvas, {
    type: "line",
    data: {
      datasets: ordered([
        ...cloud10to25.map(polygon(cloudColors[0])),
        ...cloud25to50.map(polygon(cloudColors[1])),
        ...cloudThinPatch.map(polygon(cloudColors[0])),
        ...cloud50to75.map(polygon(cloudColors[2])),
        ...cloud75to90.map(polygon(cloudColors[3])),
        ...cloud90to100.map(polygon(cloudColors[4])),
        bar(precipTotal, "#2f50f0", "#1f3a70"),
        bar(precipShowers, "#12d8d8", "#3a90e8"),
        nowLine(0, 5),
      ]),
    },
    options: {
      ...commonOptions(569, 867),
      scales: {
        x: xAxis(false, 1, 13),
        y: yAxis("left", 0, 5, [0, 1, 2, 3, 4, 5], [["0", ""], "1", "2", "3", "4", ["", "5"]], { dash: [2, 2], grid: { color: "#111", lineWidth: 1, drawTicks: false, z: 1 } }),
        yR: yAxis("right", 0, 5, [0, 1, 2, 3, 4, 5], [["0", ""], "1.5", "3.5", "6.0", "9.0", ["", "14"]]),
      },
    },
    plugins: [
      bandsPlugin,
      {
        id: "midExtras",
        afterDatasetsDraw(chart: any) {
          xMarks(chart, 15, 7);
        },
        afterDraw(chart: any) {
          const { ctx } = chart;
          text(ctx, "Precipitatii", 20, 732, { align: "center", rotate: UP });
          text(ctx, "(mm)", 52, 732, { align: "center", rotate: UP });
          text(ctx, "Altitudine (km)", 1968, 705, { align: "center", rotate: UP });
          text(ctx, "Nebulozitate", 2009, 718, { align: "center", rotate: UP });
          ctx.fillStyle = "#12d8d8";
          ctx.fillRect(143, 895, 63, 13);
          text(ctx, "Averse", 225, 900, { color: "#12d8d8" });
          ctx.fillStyle = "#2f50f0";
          ctx.fillRect(655, 895, 63, 13);
          text(ctx, "Precipitatii totală", 738, 900);
          const swatchX = [1024, 1209, 1393, 1577, 1762];
          cloudLegend.forEach((s, i) => {
            ctx.fillStyle = cloudColors[i];
            ctx.fillRect(swatchX[i], 881, 41, 27);
            text(ctx, s, swatchX[i] + 46, 900);
          });
        },
      },
    ],
  } as any);
}

function buildBottom(canvas: HTMLCanvasElement) {
  const arrow = makeArrow();
  const values = [0, 5, 10, 15, 20, 25, 30];
  const labels = [["0", ""], "5", "10", "15", "20", "25", ["", "30"]];
  return new Chart(canvas, {
    type: "line",
    data: {
      datasets: ordered([
        { ...base, data: hourly(windGust), borderColor: "#4a7088", borderWidth: 4, fill: false, borderJoinStyle: "round" },
        { ...base, data: hourly(windSpeed), borderColor: "#14a8f8", borderWidth: 10, fill: false, borderJoinStyle: "round" },
        {
          ...base,
          showLine: false,
          data: windBearing.map((_, i) => ({ x: windArrowFirstHour + 2 * i, y: windArrowLevel })),
          pointStyle: arrow,
          pointRadius: 20,
          pointRotation: windBearing.map((b) => b - 270),
        },
        nowLine(0.6, 30),
      ]),
    },
    options: {
      ...commonOptions(975, 1260),
      scales: {
        x: xAxis(true, 0, 8),
        y: yAxis("left", 0, 30, values, labels, { dash: [2, 2], grid: { color: "#7a96ac", lineWidth: 1, drawTicks: false } }),
        yR: yAxis("right", 0, 30, values, labels),
      },
    },
    plugins: [
      bandsPlugin,
      {
        id: "lowExtras",
        afterDatasetsDraw(chart: any) {
          xMarks(chart, 14, 7);
          yMarks(chart, values, 35);
        },
        afterDraw(chart: any) {
          const { ctx } = chart;
          text(ctx, "(km/h)", 52, 1119, { align: "center", rotate: UP });
          text(ctx, "Rafale de vânt", 1978, 1192, { align: "center", rotate: UP, color: "#4a7fa8", size: 30 });
          text(ctx, "Viteza vântului", 2019, 1192, { align: "center", rotate: UP, color: "#14a8f8", size: 30 });
          text(ctx, "Previziuni actualizate: 2023-06-07 22:42", 21, 1335, { color: "#aaaaaa", size: 29.7 });
        },
      },
    ],
  } as any);
}

const layer: any = { position: "absolute", left: 0, top: 0, display: "block" };

export default function App() {
  const a = useRef<HTMLCanvasElement>(null);
  const b = useRef<HTMLCanvasElement>(null);
  const c = useRef<HTMLCanvasElement>(null);
  useEffect(() => {
    const charts = [buildTop(a.current!), buildMiddle(b.current!), buildBottom(c.current!)];
    return () => charts.forEach((x) => x.destroy());
  }, []);
  return (
    <div style={{ position: "absolute", left: 0, top: 0, width: 2048, height: 1356, background: BG, overflow: "hidden" }}>
      <canvas ref={a} width={2048} height={1356} style={layer} />
      <canvas ref={b} width={2048} height={1356} style={layer} />
      <canvas ref={c} width={2048} height={1356} style={layer} />
    </div>
  );
}
